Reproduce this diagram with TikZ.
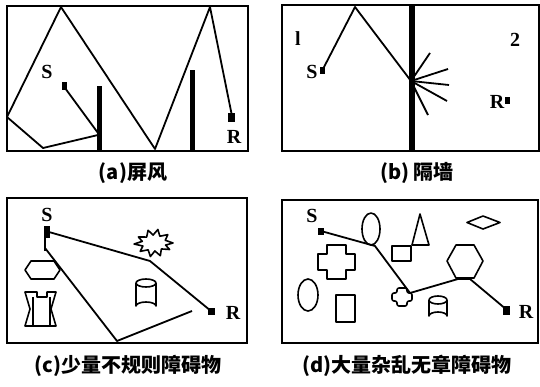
\documentclass[tikz,border=0pt]{standalone}
\usepackage{fontspec}
\setmainfont{Liberation Serif}
\newfontfamily\cjk{Noto Sans CJK SC}
\tikzset{
  frame/.style={draw=black,line width=1.7pt},
  ray/.style={draw=black,line width=1.8pt},
  barrier/.style={fill=black},
  marker/.style={fill=black},
  lbl/.style={font=\fontsize{20}{20}\selectfont\bfseries,inner sep=0pt},
  captext/.style={font=\fontsize{20}{20}\selectfont\cjk\bfseries,inner sep=0pt},
  obst/.style={draw=black,line width=1.6pt,line join=round}
}
\begin{document}
\begin{tikzpicture}[x=1pt,y=-1pt]
\useasboundingbox (0,0) rectangle (540,386);
\fill[white] (0,0) rectangle (540,386);

% ---------------- (a) ----------------
\draw[frame] (7,6) rectangle (248,151);
\fill[barrier] (97,86) rectangle (102,151);
\fill[barrier] (190,70) rectangle (195,151);
\fill[marker] (62,82) rectangle (67,90);
\fill[marker] (228,113) rectangle (235,122);
\node[lbl] (aS) at (47,72) {S};
\node[lbl] (aR) at (234,137) {R};
\coordinate (aSp) at (65,88);
\coordinate (aB1) at (98,133);
\coordinate (aB2) at (98,135);
\coordinate (aF1) at (43,148);
\coordinate (aW1) at (7,117);
\coordinate (aT1) at (61,7);
\coordinate (aF2) at (155,149);
\coordinate (aT2) at (210,7);
\coordinate (aRp) at (232,116);
\draw[ray] (aSp) -- (aB1);
\draw[ray,line join=round] (aB2) -- (aF1) -- (aW1) -- (aT1) -- (aF2) -- (aT2) -- (aRp);
\node[captext] (capa) at (133,173) {(a)屏风};

% ---------------- (b) ----------------
\draw[frame] (282,5) rectangle (539,151);
\fill[barrier] (409,5) rectangle (415,151);
\fill[marker] (320,67) rectangle (325,74);
\fill[marker] (505,97) rectangle (510,104);
\node[lbl] (bS) at (312,72) {S};
\node[lbl] (bR) at (497,102) {R};
\node[lbl] (b1) at (298,39) {l};
\node[lbl] (b2) at (515,40) {2};
\coordinate (bSp) at (323,69);
\coordinate (bT) at (355,7);
\coordinate (bW) at (411,81);
\draw[ray,line join=round] (bSp) -- (bT) -- (bW);
\coordinate (br1) at (430,53);
\coordinate (br2) at (448,69);
\coordinate (br3) at (449,85);
\coordinate (br4) at (447,101);
\coordinate (br5) at (428,115);
\foreach \r in {br1,br2,br3,br4,br5} \draw[ray] (bW) -- (\r);
\node[captext] (capb) at (417,173) {(b) 隔墙};

% ---------------- (c) ----------------
\draw[frame] (7,198) rectangle (247,343);
\fill[marker] (44,226) rectangle (50,238);
\draw[ray] (45,237) -- (45,251);
\fill[marker] (208,308) rectangle (215,315);
\node[lbl] (cS) at (47,215) {S};
\node[lbl] (cR) at (233,313) {R};
\coordinate (cSp) at (49,232);
\coordinate (cSd) at (45,248);
\coordinate (cM) at (150,261);
\coordinate (cRp) at (211,311);
\coordinate (cF) at (117,341);
\coordinate (cE) at (192,311);
\draw[ray,line join=round] (cSp) -- (cM) -- (cRp);
\draw[ray,line join=round] (cSd) -- (cF) -- (cE);
% starburst
\draw[obst,fill=white]
  (154,243) +(0:19 and 12) -- +(15:12 and 8) -- +(30:18 and 13) -- +(48:11 and 8)
  -- +(65:15 and 14) -- +(85:10 and 8) -- +(105:14 and 14) -- +(122:11 and 8)
  -- +(140:18 and 13) -- +(158:12 and 8) -- +(175:20 and 12) -- +(192:12 and 8)
  -- +(210:18 and 12) -- +(228:11 and 8) -- +(245:14 and 14) -- +(265:10 and 8)
  -- +(285:15 and 14) -- +(302:11 and 8) -- +(320:18 and 13) -- +(340:12 and 8) -- cycle;
% elongated hexagon
\draw[obst] (25,270) -- (31,261) -- (54,261) -- (60,270) -- (54,279) -- (31,279) -- cycle;
% hourglass-like block
\draw[obst] (25,292) -- (37,292) -- (37,297) -- (47,297) -- (47,292) -- (56,292) -- (51,309) -- (56,326) -- (25,326) -- (30,309) -- cycle;
\draw[obst] (33,297) -- (33,326) (50,297) -- (50,326);
% cylinder
\draw[obst] (136,283) -- (136,306) arc[start angle=180,end angle=360,x radius=10,y radius=4] -- (156,283);
\draw[obst] (146,283) ellipse[x radius=10,y radius=4];
\node[captext] (capc) at (128,366) {(c)少量不规则障碍物};

% ---------------- (d) ----------------
\draw[frame] (282,200) rectangle (538,343);
\fill[marker] (318,228) rectangle (324,235);
\fill[marker] (503,306) rectangle (510,315);
\node[lbl] (dS) at (312,216) {S};
\node[lbl] (dR) at (526,312) {R};
% obstacles
\draw[obst] (371,229) ellipse[x radius=9,y radius=16];
\draw[obst] (420,214) -- (412,245) -- (429,245) -- cycle;
\draw[obst] (392,246) rectangle (411,261);
\draw[obst] (467,222.5) -- (483,216) -- (500,222.5) -- (483,229) -- cycle;
\draw[obst] (447,261) -- (456,245) -- (474,245) -- (483,261) -- (474,278) -- (456,278) -- cycle;
\draw[obst] (308,295) ellipse[x radius=10,y radius=16];
\draw[obst] (336,295) rectangle (355,322);
\draw[obst] (318,254) -- (327,254) -- (327,245) -- (346,245) -- (346,254) -- (355,254) -- (355,270) -- (346,270) -- (346,279) -- (327,279) -- (327,270) -- (318,270) -- cycle;
\draw[obst,rounded corners=2pt] (392,293) -- (397,293) -- (397,288) -- (407,288) -- (407,293) -- (412,293) -- (412,301) -- (407,301) -- (407,306) -- (397,306) -- (397,301) -- (392,301) -- cycle;
\draw[obst] (429,300) -- (429,316) arc[start angle=180,end angle=360,x radius=9,y radius=4] -- (447,300);
\draw[obst] (438,300) ellipse[x radius=9,y radius=4];
% path
\coordinate (dSp) at (321,231);
\coordinate (d1) at (375,246);
\coordinate (d2) at (410,293);
\coordinate (d3) at (458,279);
\coordinate (d4) at (470,279);
\coordinate (dRp) at (507,310);
\draw[ray,line join=round] (dSp) -- (d1) -- (d2) -- (d3) -- (d4) -- (dRp);
\node[captext] (capd) at (407,366) {(d)大量杂乱无章障碍物};
\end{tikzpicture}
\end{document}
